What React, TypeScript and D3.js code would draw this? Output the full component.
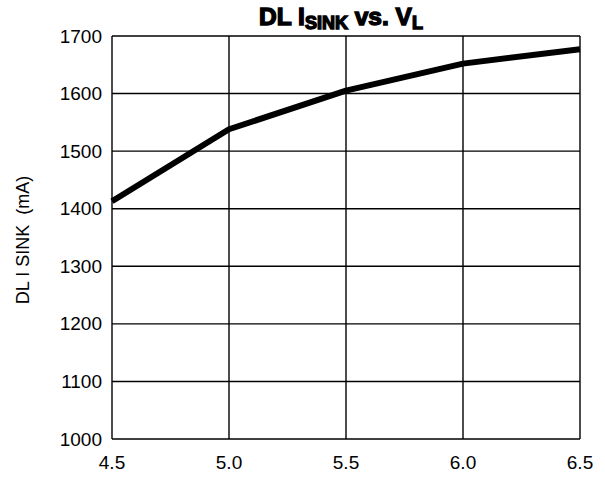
import React from "react";
import * as d3 from "d3";

const xValues = [4.5, 5.0, 5.5, 6.0, 6.5];
const yValues = [1413, 1538, 1605, 1652, 1677];
const xTicks = [4.5, 5.0, 5.5, 6.0, 6.5];
const yTicks = [1000, 1100, 1200, 1300, 1400, 1500, 1600, 1700];

export default function App() {
  const W = 605, H = 477;
  const left = 112, right = 580, top = 36, bottom = 439;
  const x = d3.scaleLinear().domain([4.5, 6.5]).range([left, right]);
  const y = d3.scaleLinear().domain([1000, 1700]).range([bottom, top]);
  const line = d3.line<number>().x((_, i) => x(xValues[i])).y((d) => y(d));
  const font = "Liberation Sans, Arial, sans-serif";
  return (
    <svg width={W} height={H} style={{ position: "absolute", left: 0, top: 0, background: "#fff" }}>
      <rect x={0} y={0} width={W} height={H} fill="#fff" />
      <text x={341} y={25} textAnchor="middle" fontFamily={font} fontWeight={900} fontSize={24.5} stroke="#000" strokeWidth={1.4}>
        DL I<tspan fontSize={18} dy={4}>SINK</tspan><tspan dy={-4}> vs. V</tspan><tspan fontSize={18} dy={4}>L</tspan>
      </text>
      {yTicks.map((t) => (
        <line key={"gy" + t} x1={left} x2={right} y1={y(t)} y2={y(t)} stroke="#000" strokeWidth={1.4} />
      ))}
      {xTicks.map((t) => (
        <line key={"gx" + t} x1={x(t)} x2={x(t)} y1={top} y2={bottom} stroke="#000" strokeWidth={1.4} />
      ))}
      {yTicks.map((t) => (
        <text key={"ty" + t} x={left - 10} y={y(t) + 6.5} textAnchor="end" fontFamily={font} fontSize={19}>
          {t}
        </text>
      ))}
      {xTicks.map((t) => (
        <text key={"tx" + t} x={x(t)} y={469} textAnchor="middle" fontFamily={font} fontSize={19}>
          {t.toFixed(1)}
        </text>
      ))}
      <text transform="translate(29,240) rotate(-90)" textAnchor="middle" fontFamily={font} fontSize={18} style={{ whiteSpace: "pre" }}>
        {"DL I SINK  (mA)"}
      </text>
      <path d={line(yValues) || ""} fill="none" stroke="#000" strokeWidth={6} strokeLinejoin="round" />
    </svg>
  );
}
